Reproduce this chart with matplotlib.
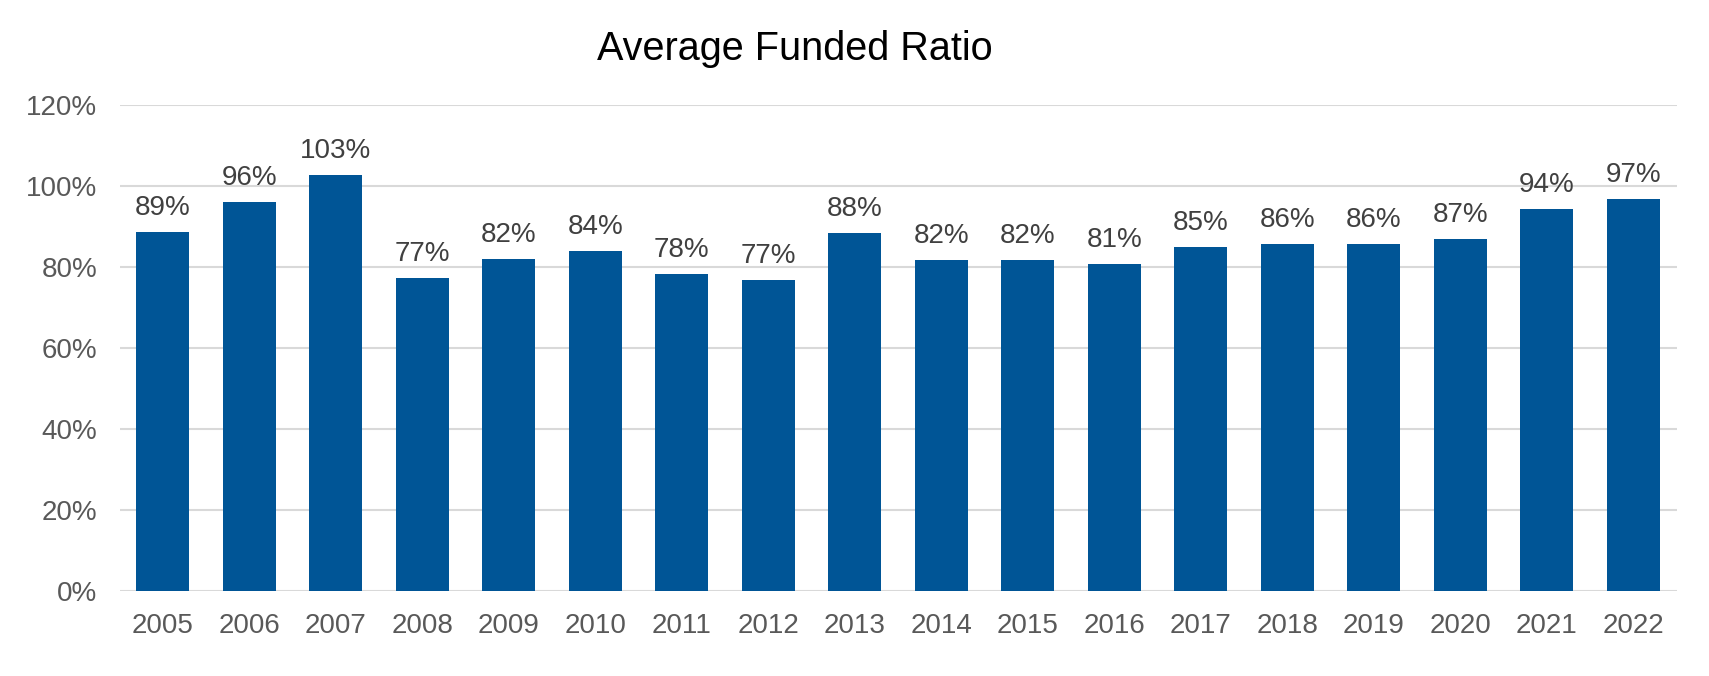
import matplotlib.pyplot as plt
from matplotlib.ticker import FuncFormatter

plt.rcParams['font.family'] = ['Liberation Sans', 'DejaVu Sans']

years = ['2005', '2006', '2007', '2008', '2009', '2010', '2011', '2012', '2013',
         '2014', '2015', '2016', '2017', '2018', '2019', '2020', '2021', '2022']
funded = [88.6, 96.0, 102.7, 77.2, 81.9, 83.8, 78.2, 76.7, 88.3,
          81.6, 81.7, 80.6, 84.9, 85.7, 85.7, 86.8, 94.2, 96.7]
yticks = [0, 20, 40, 60, 80, 100, 120]

fig = plt.figure(figsize=(17.09, 6.76), dpi=100)
ax = fig.add_axes([0.070, 0.126, 0.911, 0.719])

x = range(len(years))
bars = ax.bar(x, funded, width=0.61, color='#005596', zorder=3)

for xi, v in zip(x, funded):
    ax.annotate(f"{round(v)}%", (xi, v), xytext=(0, 8), textcoords='offset points',
                ha='center', va='bottom', fontsize=20, color='#404040')

ax.set_xlim(-0.5, len(years) - 0.5)
ax.set_ylim(0, 120)
ax.set_yticks(yticks)
ax.yaxis.set_major_formatter(FuncFormatter(lambda v, p: f"{int(v)}%"))
ax.set_xticks(list(x))
ax.set_xticklabels(years)
ax.tick_params(axis='both', length=0, labelsize=20, labelcolor='#595959')
ax.tick_params(axis='y', pad=16)
ax.tick_params(axis='x', pad=16)
ax.grid(axis='y', color='#D9D9D9', linewidth=1.5, zorder=0)
for s in ax.spines.values():
    s.set_visible(False)

fig.text(0.465, 0.927, 'Average Funded Ratio', ha='center', va='center',
         fontsize=28.5, color='black')

fig.savefig('out.png', dpi=100)
